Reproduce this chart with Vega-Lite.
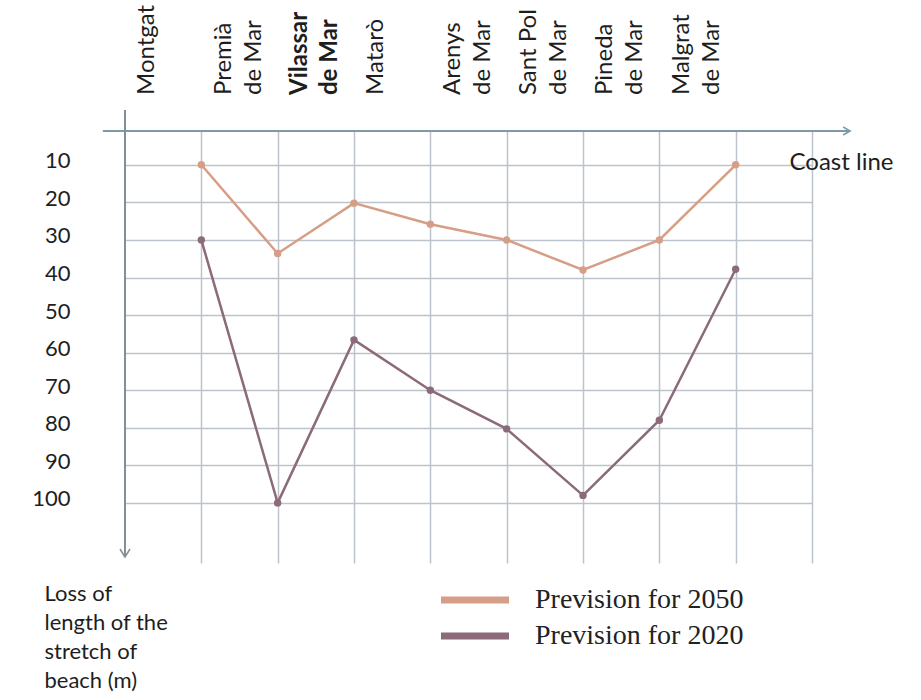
{
  "$schema": "https://vega.github.io/schema/vega-lite/v6.json",
  "width": 687,
  "height": 432,
  "autosize": {"type": "none"},
  "padding": {"left": 125, "top": 131, "right": 109, "bottom": 137},
  "background": "white",
  "config": {
    "view": {"stroke": null},
    "font": "Lato",
    "axis": {"gridColor": "#bcc3ca", "gridWidth": 1.5, "gridOpacity": 1},
    "legend": {
      "orient": "none",
      "legendX": 336,
      "legendY": 455,
      "symbolType": "M-3.4,0H3.4",
      "symbolSize": 400,
      "symbolStrokeWidth": 7,
      "labelFont": "Liberation Serif",
      "labelFontSize": 28,
      "labelColor": "#222222",
      "labelOffset": 46,
      "labelLimit": 0,
      "rowPadding": 8,
      "padding": 0
    }
  },
  "datasets": {
    "series": [
      {"town": "Montgat", "pos": 1, "series": "Prevision for 2050", "loss": 10},
      {"town": "Premià de Mar", "pos": 2, "series": "Prevision for 2050", "loss": 33.6},
      {"town": "Vilassar de Mar", "pos": 3, "series": "Prevision for 2050", "loss": 20.2},
      {"town": "Matarò", "pos": 4, "series": "Prevision for 2050", "loss": 25.8},
      {"town": "Arenys de Mar", "pos": 5, "series": "Prevision for 2050", "loss": 30},
      {"town": "Sant Pol de Mar", "pos": 6, "series": "Prevision for 2050", "loss": 38},
      {"town": "Pineda de Mar", "pos": 7, "series": "Prevision for 2050", "loss": 30},
      {"town": "Malgrat de Mar", "pos": 8, "series": "Prevision for 2050", "loss": 10},
      {"town": "Montgat", "pos": 1, "series": "Prevision for 2020", "loss": 30},
      {"town": "Premià de Mar", "pos": 2, "series": "Prevision for 2020", "loss": 100},
      {"town": "Vilassar de Mar", "pos": 3, "series": "Prevision for 2020", "loss": 56.6},
      {"town": "Matarò", "pos": 4, "series": "Prevision for 2020", "loss": 70},
      {"town": "Arenys de Mar", "pos": 5, "series": "Prevision for 2020", "loss": 80.3},
      {"town": "Sant Pol de Mar", "pos": 6, "series": "Prevision for 2020", "loss": 98},
      {"town": "Pineda de Mar", "pos": 7, "series": "Prevision for 2020", "loss": 78},
      {"town": "Malgrat de Mar", "pos": 8, "series": "Prevision for 2020", "loss": 37.8}
    ],
    "towns": [
      {"label": "Montgat", "pos": 1, "bold": false},
      {"label": "Premià\nde Mar", "pos": 2, "bold": false},
      {"label": "Vilassar\nde Mar", "pos": 3, "bold": true},
      {"label": "Matarò", "pos": 4, "bold": false},
      {"label": "Arenys\nde Mar", "pos": 5, "bold": false},
      {"label": "Sant Pol\nde Mar", "pos": 6, "bold": false},
      {"label": "Pineda\nde Mar", "pos": 7, "bold": false},
      {"label": "Malgrat\nde Mar", "pos": 8, "bold": false}
    ]
  },
  "layer": [
    {
      "data": {"name": "series"},
      "mark": {"type": "line", "strokeWidth": 2.5},
      "encoding": {
        "x": {
          "field": "pos", "type": "quantitative",
          "scale": {"domain": [0, 9], "nice": false, "zero": false},
          "axis": {
            "orient": "top", "values": [1, 2, 3, 4, 5, 6, 7, 8, 9],
            "grid": true, "labels": false, "ticks": false, "domain": false,
            "title": "Coast line", "titleFont": "Lato", "titleFontSize": 24,
            "titleFontWeight": "normal", "titleColor": "#1e1e1e",
            "titleAlign": "left", "titleBaseline": "alphabetic",
            "titleAnchor": null, "titleX": 664, "titleY": 38
          }
        },
        "y": {
          "field": "loss", "type": "quantitative",
          "scale": {"domain": [1, 116], "reverse": true, "nice": false, "zero": false},
          "axis": {
            "orient": "left", "values": [10, 20, 30, 40, 50, 60, 70, 80, 90, 100],
            "grid": true, "ticks": false, "tickSize": 0, "domain": false,
            "labelFont": "Lato", "labelFontSize": 22, "labelColor": "#1e1e1e",
            "labelPadding": 55, "labelOffset": -4,
            "title": ["Loss of", "length of the", "stretch of", "beach (m)"],
            "titleFont": "Lato", "titleFontSize": 22, "titleFontWeight": "normal",
            "titleColor": "#1e1e1e", "titleAngle": 0, "titleAlign": "left",
            "titleBaseline": "top", "titleAnchor": null,
            "titleX": -81, "titleY": 452, "titleLineHeight": 29
          }
        },
        "color": {
          "field": "series", "type": "nominal",
          "scale": {"domain": ["Prevision for 2050", "Prevision for 2020"], "range": ["#d69e86", "#8b6a79"]},
          "legend": {"title": null}
        }
      }
    },
    {
      "data": {"name": "series"},
      "mark": {"type": "point", "filled": true, "opacity": 1, "size": 55},
      "encoding": {
        "x": {"field": "pos", "type": "quantitative", "scale": {"domain": [0, 9], "nice": false, "zero": false}},
        "y": {"field": "loss", "type": "quantitative", "scale": {"domain": [1, 116], "reverse": true, "nice": false, "zero": false}},
        "color": {"field": "series", "type": "nominal", "legend": null}
      }
    },
    {
      "data": {"values": [{}]},
      "mark": {"type": "rule", "color": "#7d9aa9", "strokeWidth": 2},
      "encoding": {
        "x": {"datum": -0.29, "type": "quantitative"},
        "x2": {"datum": 9.5},
        "y": {"datum": 1, "type": "quantitative"}
      }
    },
    {
      "data": {"values": [{}]},
      "mark": {"type": "point", "shape": "M-1.75,-1L0,0L-1.75,1", "filled": false, "color": "#7d9aa9", "strokeWidth": 1.5, "size": 64, "opacity": 1},
      "encoding": {
        "x": {"datum": 9.5, "type": "quantitative"},
        "y": {"datum": 1, "type": "quantitative"}
      }
    },
    {
      "data": {"values": [{}]},
      "mark": {"type": "rule", "color": "#848e97", "strokeWidth": 2},
      "encoding": {
        "x": {"datum": 0, "type": "quantitative"},
        "y": {"datum": -4.6, "type": "quantitative"},
        "y2": {"datum": 114.4}
      }
    },
    {
      "data": {"values": [{}]},
      "mark": {"type": "point", "shape": "M-1,-1.6L0,0L1,-1.6", "filled": false, "color": "#848e97", "strokeWidth": 1.5, "size": 100, "opacity": 1},
      "encoding": {
        "x": {"datum": 0, "type": "quantitative"},
        "y": {"datum": 114.4, "type": "quantitative"}
      }
    },
    {
      "data": {"name": "towns"},
      "transform": [{"filter": "!datum.bold"}],
      "mark": {"type": "text", "angle": 270, "align": "left", "baseline": "top", "dx": 36, "dy": -66, "fontSize": 24, "font": "Lato", "lineBreak": "\n", "lineHeight": 30, "color": "#1e1e1e"},
      "encoding": {
        "x": {"field": "pos", "type": "quantitative"},
        "y": {"datum": 1, "type": "quantitative"},
        "text": {"field": "label"}
      }
    },
    {
      "data": {"name": "towns"},
      "transform": [{"filter": "datum.bold"}],
      "mark": {"type": "text", "angle": 270, "align": "left", "baseline": "top", "dx": 36, "dy": -66, "fontSize": 24, "font": "Lato", "fontWeight": "bold", "lineBreak": "\n", "lineHeight": 30, "color": "#1e1e1e"},
      "encoding": {
        "x": {"field": "pos", "type": "quantitative"},
        "y": {"datum": 1, "type": "quantitative"},
        "text": {"field": "label"}
      }
    }
  ]
}
